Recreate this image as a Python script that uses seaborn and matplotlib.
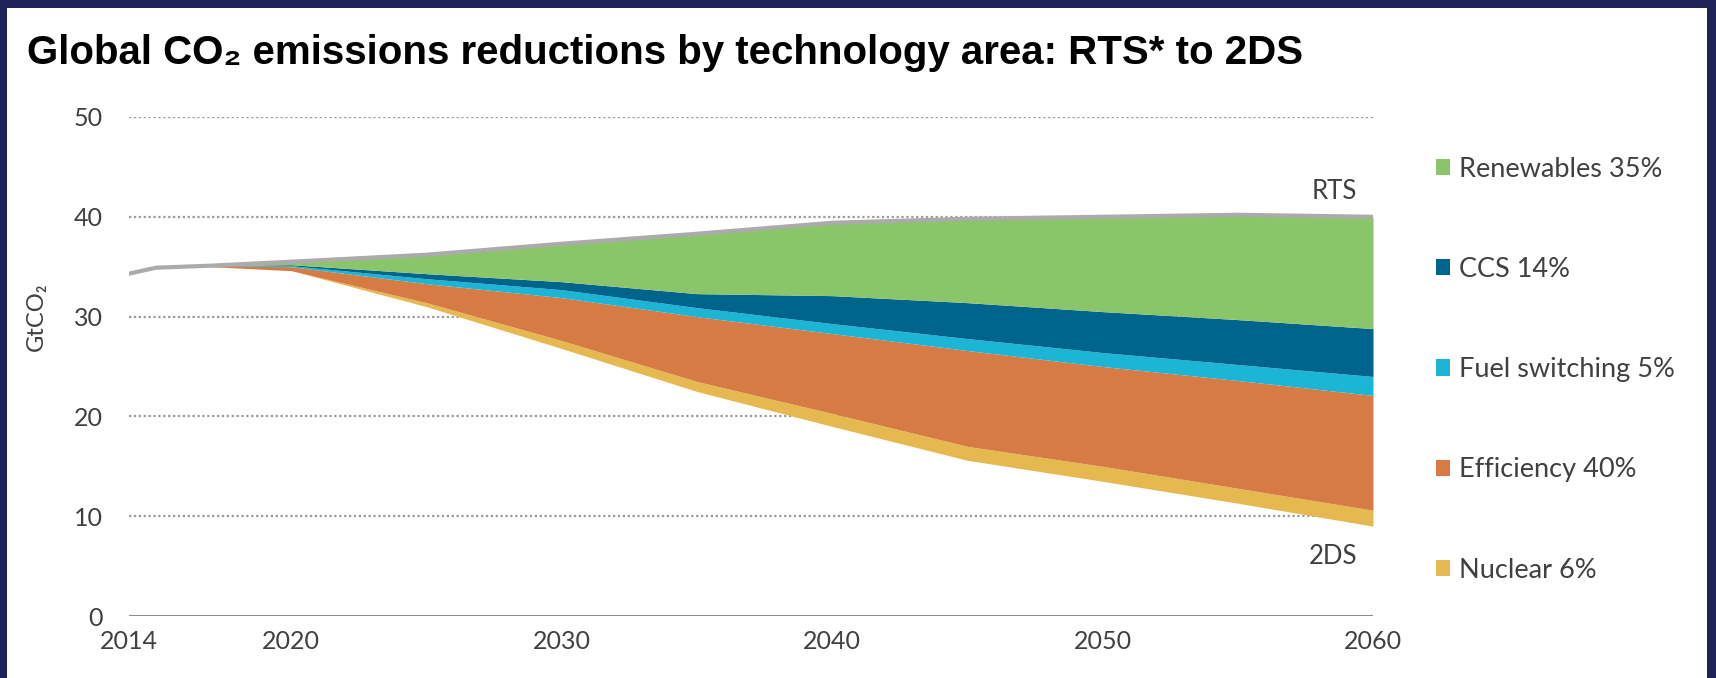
import matplotlib
matplotlib.use("Agg")
import matplotlib.pyplot as plt
import matplotlib.patches as mpatches
import numpy as np
import pandas as pd
import seaborn as sns

# ─── Data ─────────────────────────────────────────────────────────────────────

years = [2014, 2015, 2016, 2017, 2020, 2025, 2030, 2035, 2040, 2045, 2050, 2055, 2060]
emissions_2ds = [34.3, 34.9, 35.0, 35.0, 34.6, 31.0, 26.8, 22.5, 19.0, 15.6, 13.5, 11.3, 9.0]
nuclear = [0, 0, 0, 0, 0, 0.4, 0.8, 1.0, 1.3, 1.4, 1.5, 1.5, 1.6]
efficiency = [0, 0, 0, 0.1, 0.4, 1.9, 4.3, 6.5, 8.0, 9.6, 10.0, 10.8, 11.5]
fuel_switching = [0, 0, 0, 0, 0.1, 0.5, 0.8, 0.9, 1.0, 1.2, 1.4, 1.6, 1.9]
ccs = [0, 0, 0, 0, 0.1, 0.5, 0.8, 1.4, 2.8, 3.6, 4.1, 4.5, 4.8]
renewables = [0, 0, 0, 0, 0.3, 1.9, 3.8, 6.0, 7.3, 8.4, 9.5, 10.5, 11.2]

wedge_labels = ["Nuclear 6%", "Efficiency 40%", "Fuel switching 5%", "CCS 14%", "Renewables 35%"]
wedge_colors = ["#E5B94F", "#D77B45", "#1DB5D5", "#00648C", "#8BC56A"]
x_ticks = [2014, 2020, 2030, 2040, 2050, 2060]
y_ticks = [0, 10, 20, 30, 40, 50]

NAVY = "#1F2358"
TEXT = "#404040"

# ─── Figure ───────────────────────────────────────────────────────────────────

sns.set_theme(style="white")
plt.rcParams["font.family"] = ["Lato", "DejaVu Sans"]

fig = plt.figure(figsize=(17.16, 6.78), dpi=100, facecolor=NAVY)
fig.patches.append(mpatches.Rectangle(
    (7 / 1716, 0), 1 - 16 / 1716, 1 - 8 / 678,
    transform=fig.transFigure, facecolor="white", edgecolor="none", zorder=-5,
))

ax = fig.add_axes([129 / 1716, 62 / 678, (1373 - 129) / 1716, (616 - 117) / 678])
ax.set_facecolor("none")

df = pd.DataFrame({"year": years})
df["rts"] = (np.array(emissions_2ds) + np.array(nuclear) + np.array(efficiency)
             + np.array(fuel_switching) + np.array(ccs) + np.array(renewables))

# gridlines behind the wedges
for yv in y_ticks[1:]:
    ax.axhline(yv, color="#9A9A9A", lw=1.6, ls=(0, (1, 1.2)), zorder=0)
ax.axhline(0, color="#8C8C8C", lw=2.2, zorder=1)

ax.stackplot(
    years, emissions_2ds, nuclear, efficiency, fuel_switching, ccs, renewables,
    colors=["none"] + wedge_colors, linewidth=0, zorder=2,
)
sns.lineplot(data=df, x="year", y="rts", ax=ax, color="#ABABAB", lw=3, zorder=3)

ax.set_xlim(2014, 2060)
ax.set_ylim(0, 50)
ax.set_xticks(x_ticks)
ax.set_yticks(y_ticks)
ax.tick_params(axis="both", length=0, labelsize=18, labelcolor=TEXT)
ax.tick_params(axis="x", pad=10)
ax.tick_params(axis="y", pad=19)
for s in ax.spines.values():
    s.set_visible(False)
ax.set_xlabel("")
ax.set_ylabel("GtCO₂", fontsize=17, color=TEXT)
ax.yaxis.set_label_coords(-0.066, 0.6)

ax.text(2059.4, 41.3, "RTS", ha="right", va="bottom", fontsize=18.5, color=TEXT)
ax.text(2059.4, 6.0, "2DS", ha="right", va="center", fontsize=18.5, color=TEXT)

fig.text(27 / 1716, 1 - 53 / 678, "Global CO₂ emissions reductions by technology area: RTS* to 2DS",
         fontsize=29, fontweight="bold", color="black", va="center",
         family=["Liberation Sans", "DejaVu Sans"])

handles = [mpatches.Patch(facecolor=c, edgecolor="none", label=l)
           for c, l in zip(wedge_colors[::-1], wedge_labels[::-1])]
fig.legend(
    handles=handles, loc="upper left", bbox_to_anchor=(1422 / 1716, 1 - 143 / 678),
    frameon=False, fontsize=19.5, handlelength=0.55, handleheight=0.55,
    handletextpad=0.3, labelspacing=2.78, borderpad=0, labelcolor=TEXT,
)

fig.savefig("out.png", dpi=100, facecolor=NAVY)
